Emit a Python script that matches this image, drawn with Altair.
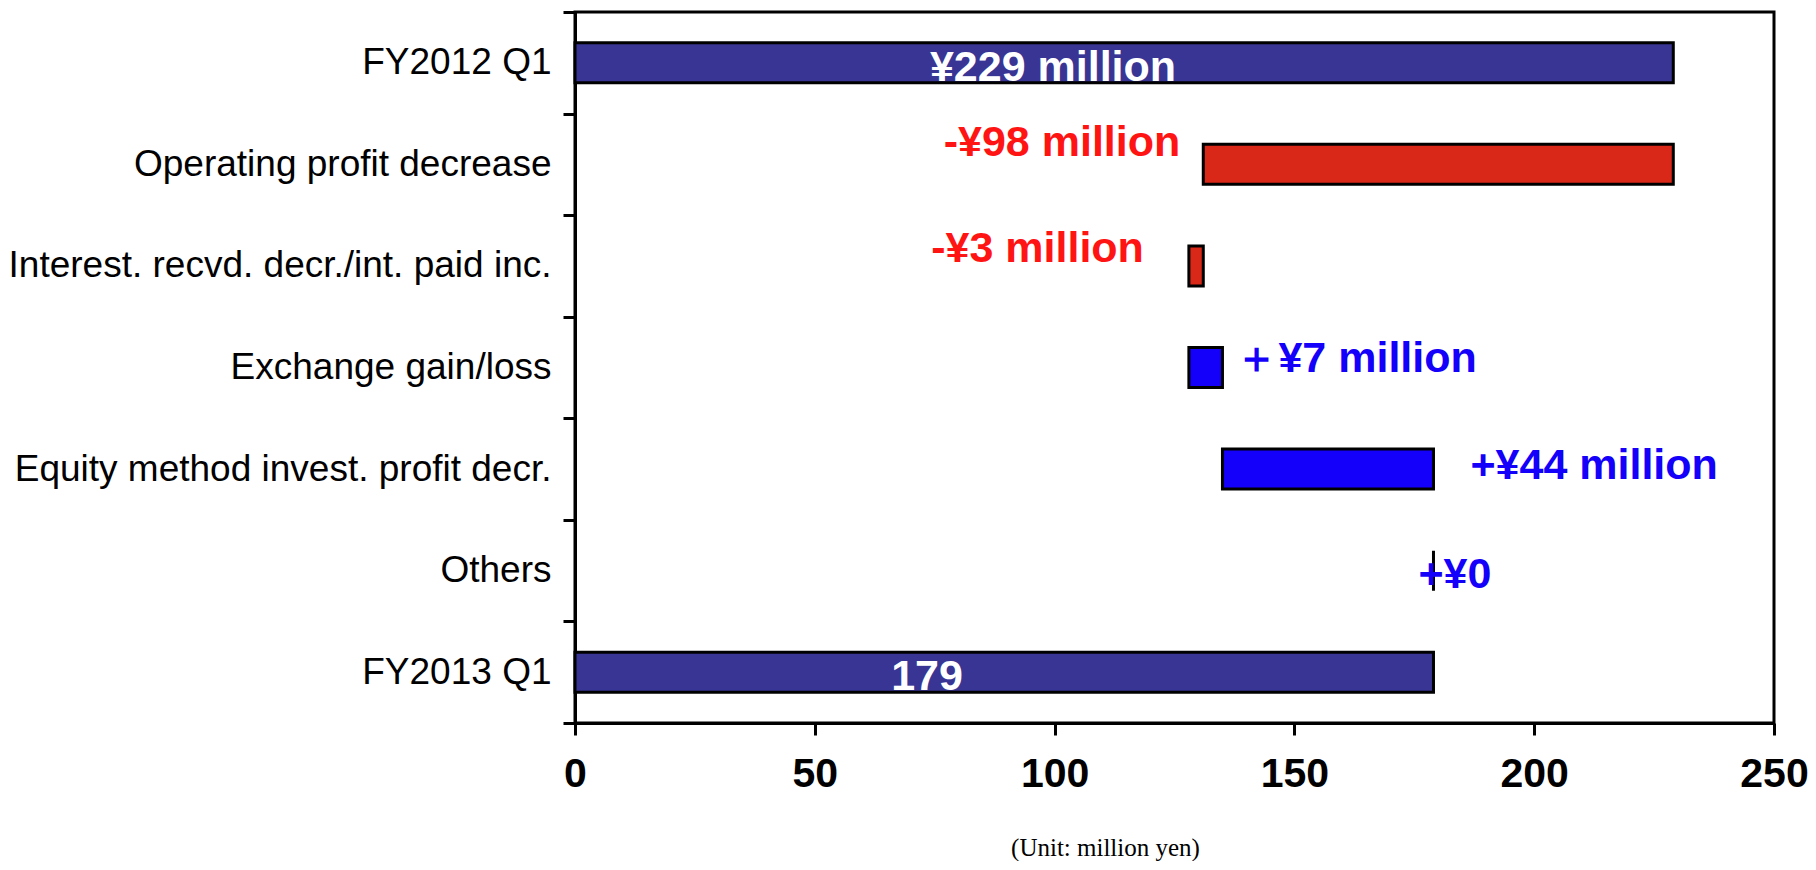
import altair as alt
import pandas as pd

categories = [
    "FY2012 Q1",
    "Operating profit decrease",
    "Interest. recvd. decr./int. paid inc.",
    "Exchange gain/loss",
    "Equity method invest. profit decr.",
    "Others",
    "FY2013 Q1",
]
starts = [0, 131, 128, 128, 135, 179, 0]
ends = [229, 229, 131, 135, 179, 179, 179]
kinds = ["total", "decrease", "decrease", "increase", "increase", "increase", "total"]
labels = ["¥229 million", "-¥98 million", "-¥3 million", "＋¥7 million", "+¥44 million", "+¥0", "179"]
x_ticks = [0, 50, 100, 150, 200, 250]

df = pd.DataFrame({"cat": categories, "start": starts, "end": ends, "kind": kinds, "label": labels})
df["lo"] = df[["start", "end"]].min(axis=1)
df["hi"] = df[["start", "end"]].max(axis=1)

NAVY, RED, BLUE = "#383595", "#D92718", "#1400FA"

yenc = alt.Y(
    "cat:N", sort=categories,
    scale=alt.Scale(paddingInner=0, paddingOuter=0),
    axis=alt.Axis(title=None, tickBand="extent", tickSize=12, tickWidth=3,
                  labelFont="Liberation Sans", labelFontSize=37, labelColor="black",
                  labelLimit=0, labelPadding=12, domainWidth=3, domainColor="black",
                  tickColor="black"),
)
xscale = alt.Scale(domain=[0, 250], nice=False)

bars = alt.Chart(df).mark_bar(size=40, stroke="black", strokeWidth=3).encode(
    y=yenc,
    x=alt.X("start:Q", scale=xscale,
            axis=alt.Axis(values=x_ticks, tickSize=12, tickWidth=3, tickColor="black",
                          domainWidth=3, domainColor="black", grid=False,
                          labelFlush=False,
                          labelFont="Liberation Sans", labelFontWeight="bold",
                          labelFontSize=41, labelColor="black", labelPadding=19,
                          title="(Unit: million yen)", titleFont="Liberation Serif",
                          titleFontWeight="normal", titleFontSize=25, titleColor="black",
                          titleX=530, titleY=124, titleBaseline="middle")),
    x2="end:Q",
    color=alt.Color("kind:N", scale=alt.Scale(domain=["total", "decrease", "increase"],
                                              range=[NAVY, RED, BLUE]), legend=None),
)

# label styling: category -> (anchor field, align, dx, dy, color)
label_style = {
    "FY2012 Q1": ("lo", "center", 478, 5, "white"),
    "Operating profit decrease": ("lo", "right", -23, -21, "#FF1414"),
    "Interest. recvd. decr./int. paid inc.": ("lo", "right", -45, -17, "#FF1414"),
    "Exchange gain/loss": ("hi", "left", 13, -9, "#1400FA"),
    "Equity method invest. profit decr.": ("hi", "left", 37, -3, "#1400FA"),
    "Others": ("hi", "left", -15, 4, "#1400FA"),
    "FY2013 Q1": ("lo", "center", 352, 5, "white"),
}

layers = [bars]
for cat, (field, align, dx, dy, col) in label_style.items():
    t = alt.Chart(df).transform_filter(alt.datum.cat == cat).mark_text(
        align=align, baseline="middle", dx=dx, dy=dy, color=col,
        font="Liberation Sans", fontWeight="bold", fontSize=43,
    ).encode(
        y=alt.Y("cat:N", sort=categories),
        x=alt.X(f"{field}:Q", scale=xscale),
        text="label:N",
    )
    layers.append(t)

chart = alt.layer(*layers).properties(
    width=1199, height=711,
    autosize=alt.AutoSizeParams(type="none"),
    padding={"left": 567, "top": 4, "right": 34, "bottom": 138},
).configure_view(stroke="black", strokeWidth=3).configure_axis(grid=False)

chart.save("out.html", embed_options={"renderer": "svg", "actions": False})
